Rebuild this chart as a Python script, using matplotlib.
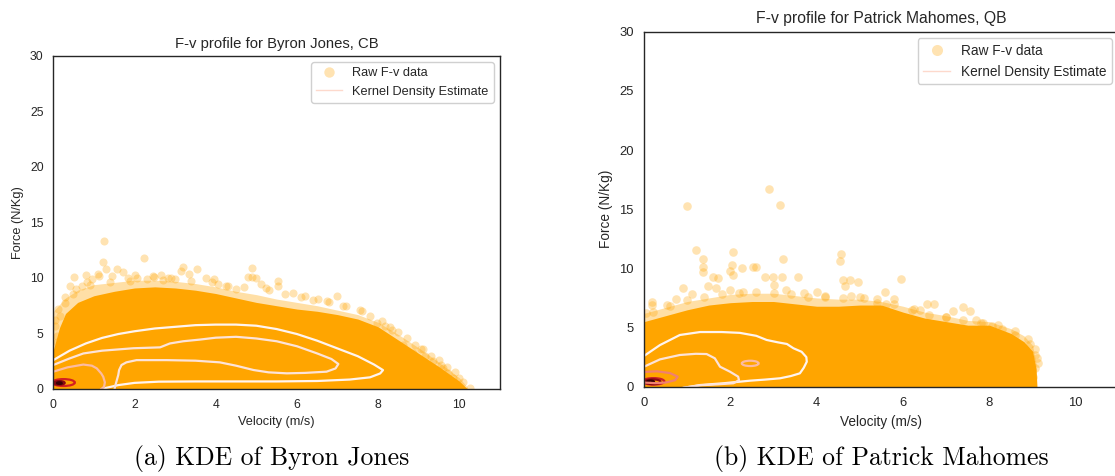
import matplotlib
matplotlib.use("Agg")
import matplotlib.pyplot as plt
from matplotlib.lines import Line2D
from matplotlib.patches import Ellipse

plt.rcParams["font.family"] = ["Liberation Sans", "DejaVu Sans"]
INK = "#262626"

# ---------------- Byron Jones, CB ----------------
byron_env_v = [0.0, 0.15, 0.3, 0.6, 1.0, 1.5, 2.0, 2.5, 3.0, 3.5, 4.0, 4.5, 5.0,
               5.5, 6.0, 6.5, 7.0, 7.5, 8.0, 8.5, 9.0, 9.5, 10.0, 10.2]
byron_core_f = [3.5, 5.5, 6.8, 7.8, 8.4, 8.8, 9.1, 9.2, 9.1, 8.9, 8.6, 8.2, 7.8,
                7.5, 7.2, 7.0, 6.7, 6.3, 5.6, 4.4, 3.2, 2.0, 0.7, 0.0]
byron_fringe_f = [7.0, 7.6, 8.2, 8.9, 9.4, 9.6, 9.8, 9.8, 9.7, 9.5, 9.2, 8.8, 8.5,
                  8.1, 7.8, 7.5, 7.1, 6.7, 6.0, 4.9, 3.7, 2.4, 1.0, 0.15]
byron_pts_v = [1.26, 1.22, 1.30, 2.23, 0.51, 0.80, 1.09, 1.13, 1.56, 1.72, 2.01, 2.05,
               2.45, 2.49, 2.83, 2.91, 3.20, 3.14, 3.33, 3.55, 3.76, 4.06, 4.25, 4.50,
               4.79, 4.89, 4.90, 5.00, 5.11, 5.53, 5.54, 5.91, 6.98, 6.53, 7.14, 7.96,
               8.17, 8.62, 8.87, 9.15, 9.36, 9.60, 9.73, 9.85, 10.10, 10.26, 0.12, 0.29,
               0.41, 0.48, 0.70, 0.83, 0.95, 0.16, 0.04, 0.08, 1.45, 1.85, 2.65, 3.95,
               5.25, 6.20, 6.75, 7.55, 8.35, 9.05, 9.55,
               0.30, 0.55, 0.90, 1.40, 1.90, 2.30, 2.70, 3.00, 3.40, 3.90, 4.30, 4.70,
               5.30, 5.70, 6.10, 6.40, 6.80, 7.20, 7.60, 7.80, 8.10, 8.30, 8.50, 8.70,
               8.90, 9.10, 9.30, 9.50, 9.70, 9.90, 10.00, 0.05, 0.10, 0.20]
byron_pts_f = [13.34, 11.48, 10.84, 11.80, 10.09, 10.24, 10.40, 10.18, 10.78, 10.57, 10.24, 10.03,
               10.18, 10.09, 10.03, 10.03, 11.02, 10.63, 10.39, 10.78, 10.03, 9.43, 9.28, 9.04,
               10.09, 10.09, 10.93, 10.03, 9.49, 9.73, 9.28, 8.67, 8.37, 8.07, 7.47, 5.96,
               5.66, 4.00, 3.25, 2.95, 2.50, 1.90, 1.45, 1.00, 0.60, 0.10, 7.17, 7.77,
               9.28, 8.52, 9.28, 9.60, 9.90, 6.57, 5.66, 4.76, 10.2, 10.0, 10.3, 9.9,
               9.1, 8.4, 7.9, 7.1, 5.3, 3.6, 2.2,
               8.3, 9.0, 9.4, 9.6, 9.7, 9.9, 9.8, 9.9, 9.7, 9.6, 9.3, 9.2,
               8.9, 8.6, 8.3, 8.0, 7.8, 7.5, 7.0, 6.6, 6.1, 5.6, 5.1, 4.6,
               4.0, 3.6, 3.0, 2.6, 2.0, 1.5, 1.0, 6.2, 4.2, 3.6]

# KDE iso-density lines (outer to inner)
byron_kde1_v = [0.0, 0.4, 0.8, 1.2, 1.6, 2.0, 2.5, 3.0, 3.5, 4.0, 4.5, 5.0, 5.5, 6.0,
                6.5, 7.0, 7.5, 7.9, 8.12, 8.05, 7.8, 7.3, 6.5, 5.5, 4.5, 3.5, 2.6, 2.0,
                1.6, 1.3, 1.15]
byron_kde1_f = [2.6, 3.45, 4.1, 4.6, 4.95, 5.2, 5.45, 5.6, 5.75, 5.8, 5.8, 5.7, 5.4, 4.95,
                4.35, 3.65, 2.95, 2.2, 1.7, 1.4, 1.05, 0.85, 0.72, 0.68, 0.68, 0.68, 0.66, 0.55,
                0.35, 0.1, -0.1]
byron_kde2_v = [0.0, 0.4, 0.74, 1.2, 1.97, 2.63, 2.87, 3.2, 3.61, 4.0, 4.5, 5.0, 5.5, 6.0,
                6.5, 6.85, 7.02, 6.95, 6.73, 6.2, 5.75, 5.3, 4.93, 4.5, 4.1, 3.5, 2.8, 2.05,
                1.8, 1.68, 1.62, 1.6, 1.55, 1.52, 1.5]
byron_kde2_f = [2.16, 2.75, 3.2, 3.45, 3.67, 3.75, 4.1, 4.3, 4.45, 4.62, 4.7, 4.55, 4.3, 3.85,
                3.2, 2.7, 2.25, 1.85, 1.56, 1.45, 1.41, 1.5, 1.71, 2.1, 2.4, 2.55, 2.6, 2.6,
                2.4, 2.16, 1.7, 1.26, 0.6, 0.2, -0.2]
byron_kde3_v = [0.0, 0.35, 0.74, 0.95, 1.07, 1.18, 1.23, 1.27, 1.25, 1.15]
byron_kde3_f = [1.56, 1.95, 2.2, 2.1, 1.86, 1.4, 1.1, 0.6, 0.2, -0.1]
# innermost density peaks: centre, width, height
byron_peak_v = [0.25, 0.15, 0.15]
byron_peak_f = [0.58, 0.55, 0.53]
byron_peak_w = [0.56, 0.26, 0.12]
byron_peak_h = [0.62, 0.32, 0.14]

# ---------------- Patrick Mahomes, QB ----------------
pat_env_v = [0.0, 0.5, 1.0, 1.5, 2.0, 2.5, 3.0, 3.5, 4.0, 4.5, 5.0, 5.5, 6.0,
             6.5, 7.0, 7.5, 8.0, 8.5, 8.8, 9.0, 9.08, 9.1]
pat_core_f = [5.5, 6.0, 6.5, 6.9, 7.1, 7.2, 7.2, 7.0, 6.8, 6.8, 6.9, 6.9, 6.3,
              5.8, 5.5, 5.2, 5.2, 4.5, 3.8, 3.0, 1.5, 0.0]
pat_fringe_f = [6.2, 6.7, 7.2, 7.5, 7.8, 7.9, 7.9, 7.7, 7.5, 7.4, 7.4, 7.2, 6.8,
                6.3, 6.0, 5.6, 5.5, 4.9, 4.3, 3.5, 2.0, 0.2]
pat_pts_v = [2.90, 0.99, 3.14, 1.20, 2.07, 1.36, 3.23, 4.56, 4.54, 1.37, 1.37, 2.03,
             2.28, 2.52, 2.60, 1.60, 1.72, 5.95, 4.96, 4.62, 4.78, 4.66, 0.90, 5.59,
             5.79, 6.55, 6.72, 7.15, 7.40, 7.56, 0.18, 0.18, 0.53, 2.00, 2.05, 2.80,
             2.99, 3.19, 3.57, 1.48, 1.67, 2.00, 2.30, 3.00, 3.30, 3.70, 4.00, 4.20,
             4.80, 5.10, 5.40, 5.60, 6.25, 6.40, 7.00, 7.70, 7.85, 8.05, 8.30, 8.60,
             8.95, 9.05, 0.05, 0.75, 1.10,
             0.20, 0.60, 1.00, 1.40, 1.80, 2.20, 2.60, 3.00, 3.40, 3.80, 4.20, 4.60,
             5.00, 5.40, 5.80, 6.20, 6.60, 7.00, 7.40, 7.80, 8.20, 8.60, 8.90, 9.05,
             9.10, 9.05, 9.00, 9.12, 8.90]
pat_pts_f = [16.70, 15.27, 15.36, 11.53, 11.39, 10.77, 10.77, 11.20, 10.62, 10.10, 9.70, 10.29,
             10.00, 10.15, 10.10, 9.30, 9.16, 9.08, 8.82, 9.00, 9.00, 8.51, 8.34, 8.03,
             7.38, 7.00, 7.00, 6.40, 6.70, 6.40, 7.20, 6.90, 6.90, 9.80, 9.40, 9.25,
             9.25, 9.25, 9.30, 8.50, 8.35, 8.20, 8.00, 8.60, 8.20, 7.90, 8.00, 7.70,
             7.70, 7.50, 7.10, 7.00, 6.60, 6.50, 5.90, 5.60, 5.40, 5.10, 4.90, 4.40,
             3.60, 2.70, 6.20, 7.40, 7.80,
             6.3, 6.8, 7.3, 7.6, 7.8, 7.9, 8.0, 7.9, 7.8, 7.6, 7.6, 7.5,
             7.6, 7.4, 7.0, 6.5, 6.1, 5.9, 5.6, 5.4, 5.2, 4.7, 4.0, 3.2,
             2.4, 1.6, 0.8, 2.0, 0.3]

pat_kde1_v = [0.0, 0.37, 0.83, 1.3, 1.8, 2.22, 2.6, 2.84, 3.1, 3.31, 3.46, 3.65, 3.76,
              3.77, 3.7, 3.61, 3.4, 3.15, 2.8, 2.46, 1.84, 1.3, 0.9]
pat_kde1_f = [2.6, 3.52, 4.37, 4.62, 4.62, 4.55, 4.3, 3.95, 3.75, 3.61, 3.25, 2.95, 2.5,
              2.11, 1.6, 1.13, 0.9, 0.71, 0.6, 0.51, 0.29, 0.14, -0.1]
pat_kde2_v = [0.0, 0.37, 0.83, 1.2, 1.45, 1.64, 1.76, 1.99, 2.18, 2.2, 2.07, 1.7, 1.3, 0.9]
pat_kde2_f = [1.69, 2.31, 2.68, 2.78, 2.76, 2.4, 1.69, 1.27, 0.85, 0.55, 0.29, 0.2, 0.12, -0.1]
pat_kde3_v = [0.0, 0.3, 0.6, 0.78, 0.72, 0.5, 0.25, 0.0]
pat_kde3_f = [1.25, 1.3, 1.15, 0.85, 0.55, 0.35, 0.3, 0.35]
# small island and innermost peaks: centre, width, height
pat_island = (2.46, 1.97, 0.39, 0.45)
pat_peak_v = [0.22, 0.2, 0.15]
pat_peak_f = [0.45, 0.42, 0.42]
pat_peak_w = [0.5, 0.36, 0.16]
pat_peak_h = [0.55, 0.4, 0.2]

BYRON_KDE_COLORS = ["#fff4ef", "#fde3d8", "#fcbba1"]
PAT_KDE_COLORS = ["#fff4ef", "#fde3d8", "#f08070"]
ORANGE = "#ffa500"


def draw_panel(ax, title, env_v, core_f, fringe_f, pts_v, pts_f, kde_lines, kde_colors,
               peaks, peak_colors, scale, island=None):
    ax.fill_between(env_v, -1, fringe_f, color=ORANGE, alpha=0.35, lw=0)
    ax.fill_between(env_v, -1, core_f, color=ORANGE, lw=0)
    ax.scatter(pts_v, pts_f, s=34 * scale ** 2, color=ORANGE, alpha=0.3, lw=0)
    for (v, f), c in zip(kde_lines, kde_colors):
        ax.plot(v, f, color=c, lw=1.6, solid_capstyle="round")
    if island is not None:
        ax.add_patch(Ellipse(island[:2], island[2], island[3], fill=False,
                             ec="#fcbba1", lw=1.6))
    for (cv, cf, w, h), c in zip(zip(*peaks), peak_colors):
        ax.add_patch(Ellipse((cv, cf), w, h, fill=False, ec=c, lw=1.6))
    ax.set_xlim(0, 11)
    ax.set_ylim(0, 30)
    ax.set_xticks([0, 2, 4, 6, 8, 10])
    ax.set_yticks([0, 5, 10, 15, 20, 25, 30])
    ax.tick_params(length=0, pad=7 * scale, labelsize=8.8 * scale, colors=INK)
    for sp in ax.spines.values():
        sp.set_color(INK)
        sp.set_linewidth(1.0)
    ax.set_title(title, fontsize=10.7 * scale, color=INK, pad=6 * scale)
    ax.set_xlabel("Velocity (m/s)", fontsize=9.2 * scale, color=INK, labelpad=4 * scale)
    ax.set_ylabel("Force (N/Kg)", fontsize=9.2 * scale, color=INK, labelpad=4 * scale)
    handles = [
        Line2D([], [], marker="o", ls="", color=ORANGE, alpha=0.3, markersize=7.5 * scale,
               markeredgewidth=0),
        Line2D([], [], color="#fdd9cc", lw=1.0),
    ]
    ax.legend(handles, ["Raw F-v data", "Kernel Density Estimate"], loc="upper right",
              fontsize=9.2 * scale, frameon=True, edgecolor="#d0d0d0", framealpha=1,
              borderpad=0.4, handlelength=2.0, labelcolor=INK)


fig = plt.figure(figsize=(11.15, 4.76), dpi=100)
ax1 = fig.add_axes([0.0478, 0.1828, 0.4006, 0.6996])
ax2 = fig.add_axes([0.5776, 0.1876, 0.4259, 0.7458])

draw_panel(ax1, "F-v profile for Byron Jones, CB", byron_env_v, byron_core_f,
           byron_fringe_f, byron_pts_v, byron_pts_f,
           [(byron_kde1_v, byron_kde1_f), (byron_kde2_v, byron_kde2_f),
            (byron_kde3_v, byron_kde3_f)], BYRON_KDE_COLORS,
           (byron_peak_v, byron_peak_f, byron_peak_w, byron_peak_h),
           ["#d42020", "#8a0812", "#3a0006"], 1.0)
draw_panel(ax2, "F-v profile for Patrick Mahomes, QB", pat_env_v, pat_core_f,
           pat_fringe_f, pat_pts_v, pat_pts_f,
           [(pat_kde1_v, pat_kde1_f), (pat_kde2_v, pat_kde2_f),
            (pat_kde3_v, pat_kde3_f)], PAT_KDE_COLORS,
           (pat_peak_v, pat_peak_f, pat_peak_w, pat_peak_h),
           ["#c8202a", "#8a0812", "#3a0006"], 1.063, island=pat_island)

fig.text(272 / 1115, 1 - 459 / 476, "(a) KDE of Byron Jones", fontname="cmr10",
         fontsize=18.5, ha="center", va="center", color="black")
fig.text(881 / 1115, 1 - 459 / 476, "(b) KDE of Patrick Mahomes", fontname="cmr10",
         fontsize=18.5, ha="center", va="center", color="black")

fig.savefig("out.png", dpi=100)
